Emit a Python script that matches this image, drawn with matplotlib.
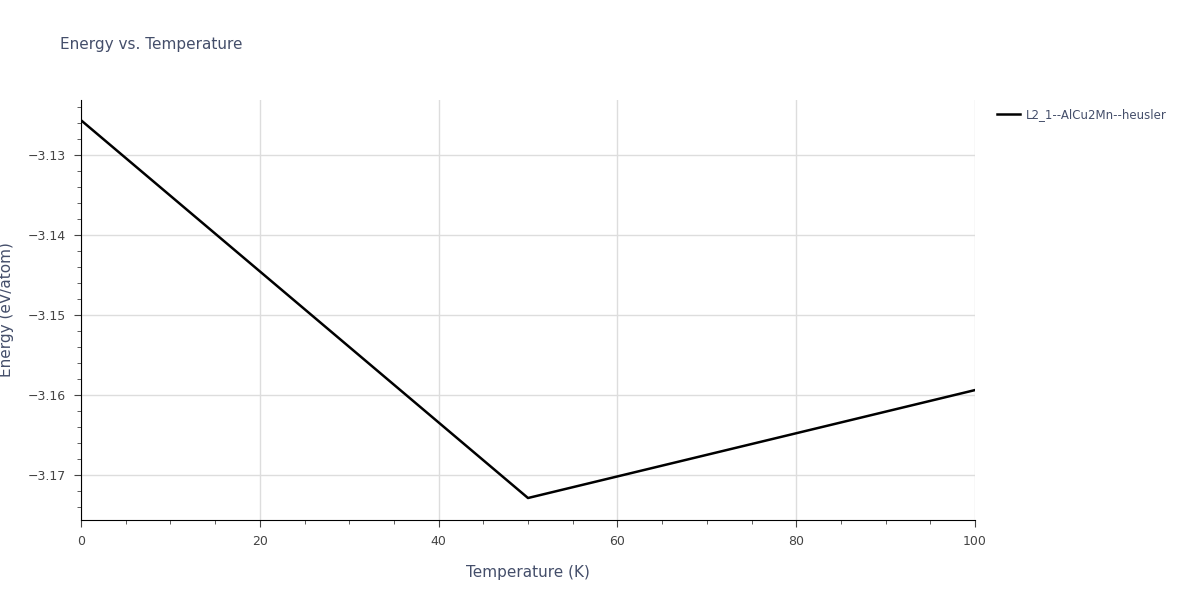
import matplotlib
matplotlib.use("Agg")
import matplotlib.pyplot as plt
from matplotlib.ticker import MultipleLocator, FuncFormatter

temps = [0, 50, 100]
energy = [-3.12563, -3.17288, -3.15938]
label = "L2_1--AlCu2Mn--heusler"

fig = plt.figure(figsize=(12, 6), dpi=100)
ax = fig.add_axes([81/1200, 80/600, 894/1200, 420/600])
ax.plot(temps, energy, color="black", lw=1.8, label=label)
ax.set_xlim(0, 100)
ax.set_ylim(-3.17563, -3.1231)
ax.xaxis.set_major_locator(MultipleLocator(20))
ax.xaxis.set_minor_locator(MultipleLocator(5))
ax.yaxis.set_major_locator(MultipleLocator(0.01))
ax.yaxis.set_minor_locator(MultipleLocator(0.002))
ax.yaxis.set_major_formatter(FuncFormatter(lambda v, p: f"{v:.2f}".replace("-", "\u2212")))
ax.grid(True, which="major", color="#dddddd", lw=1)
for s in ["top", "right"]:
    ax.spines[s].set_visible(False)
ax.tick_params(colors="#444444", labelsize=9, which="both", direction="out")
ax.tick_params(which="major", length=5, pad=6)
ax.tick_params(which="minor", length=3)
ax.set_xlabel("Temperature (K)", color="#444e6a", fontsize=11, labelpad=12)
ax.set_ylabel("Energy (eV/atom)", color="#444e6a", fontsize=11, labelpad=10)
fig.text(60/1200, 1-45/600, "Energy vs. Temperature", color="#444e6a", fontsize=11, va="center")
ax.legend(loc="upper left", bbox_to_anchor=(1.015, 1.0), frameon=False, fontsize=8.5,
          labelcolor="#444e6a", handlelength=2.0, handletextpad=0.5, borderaxespad=0.3)
fig.savefig("out.png")
